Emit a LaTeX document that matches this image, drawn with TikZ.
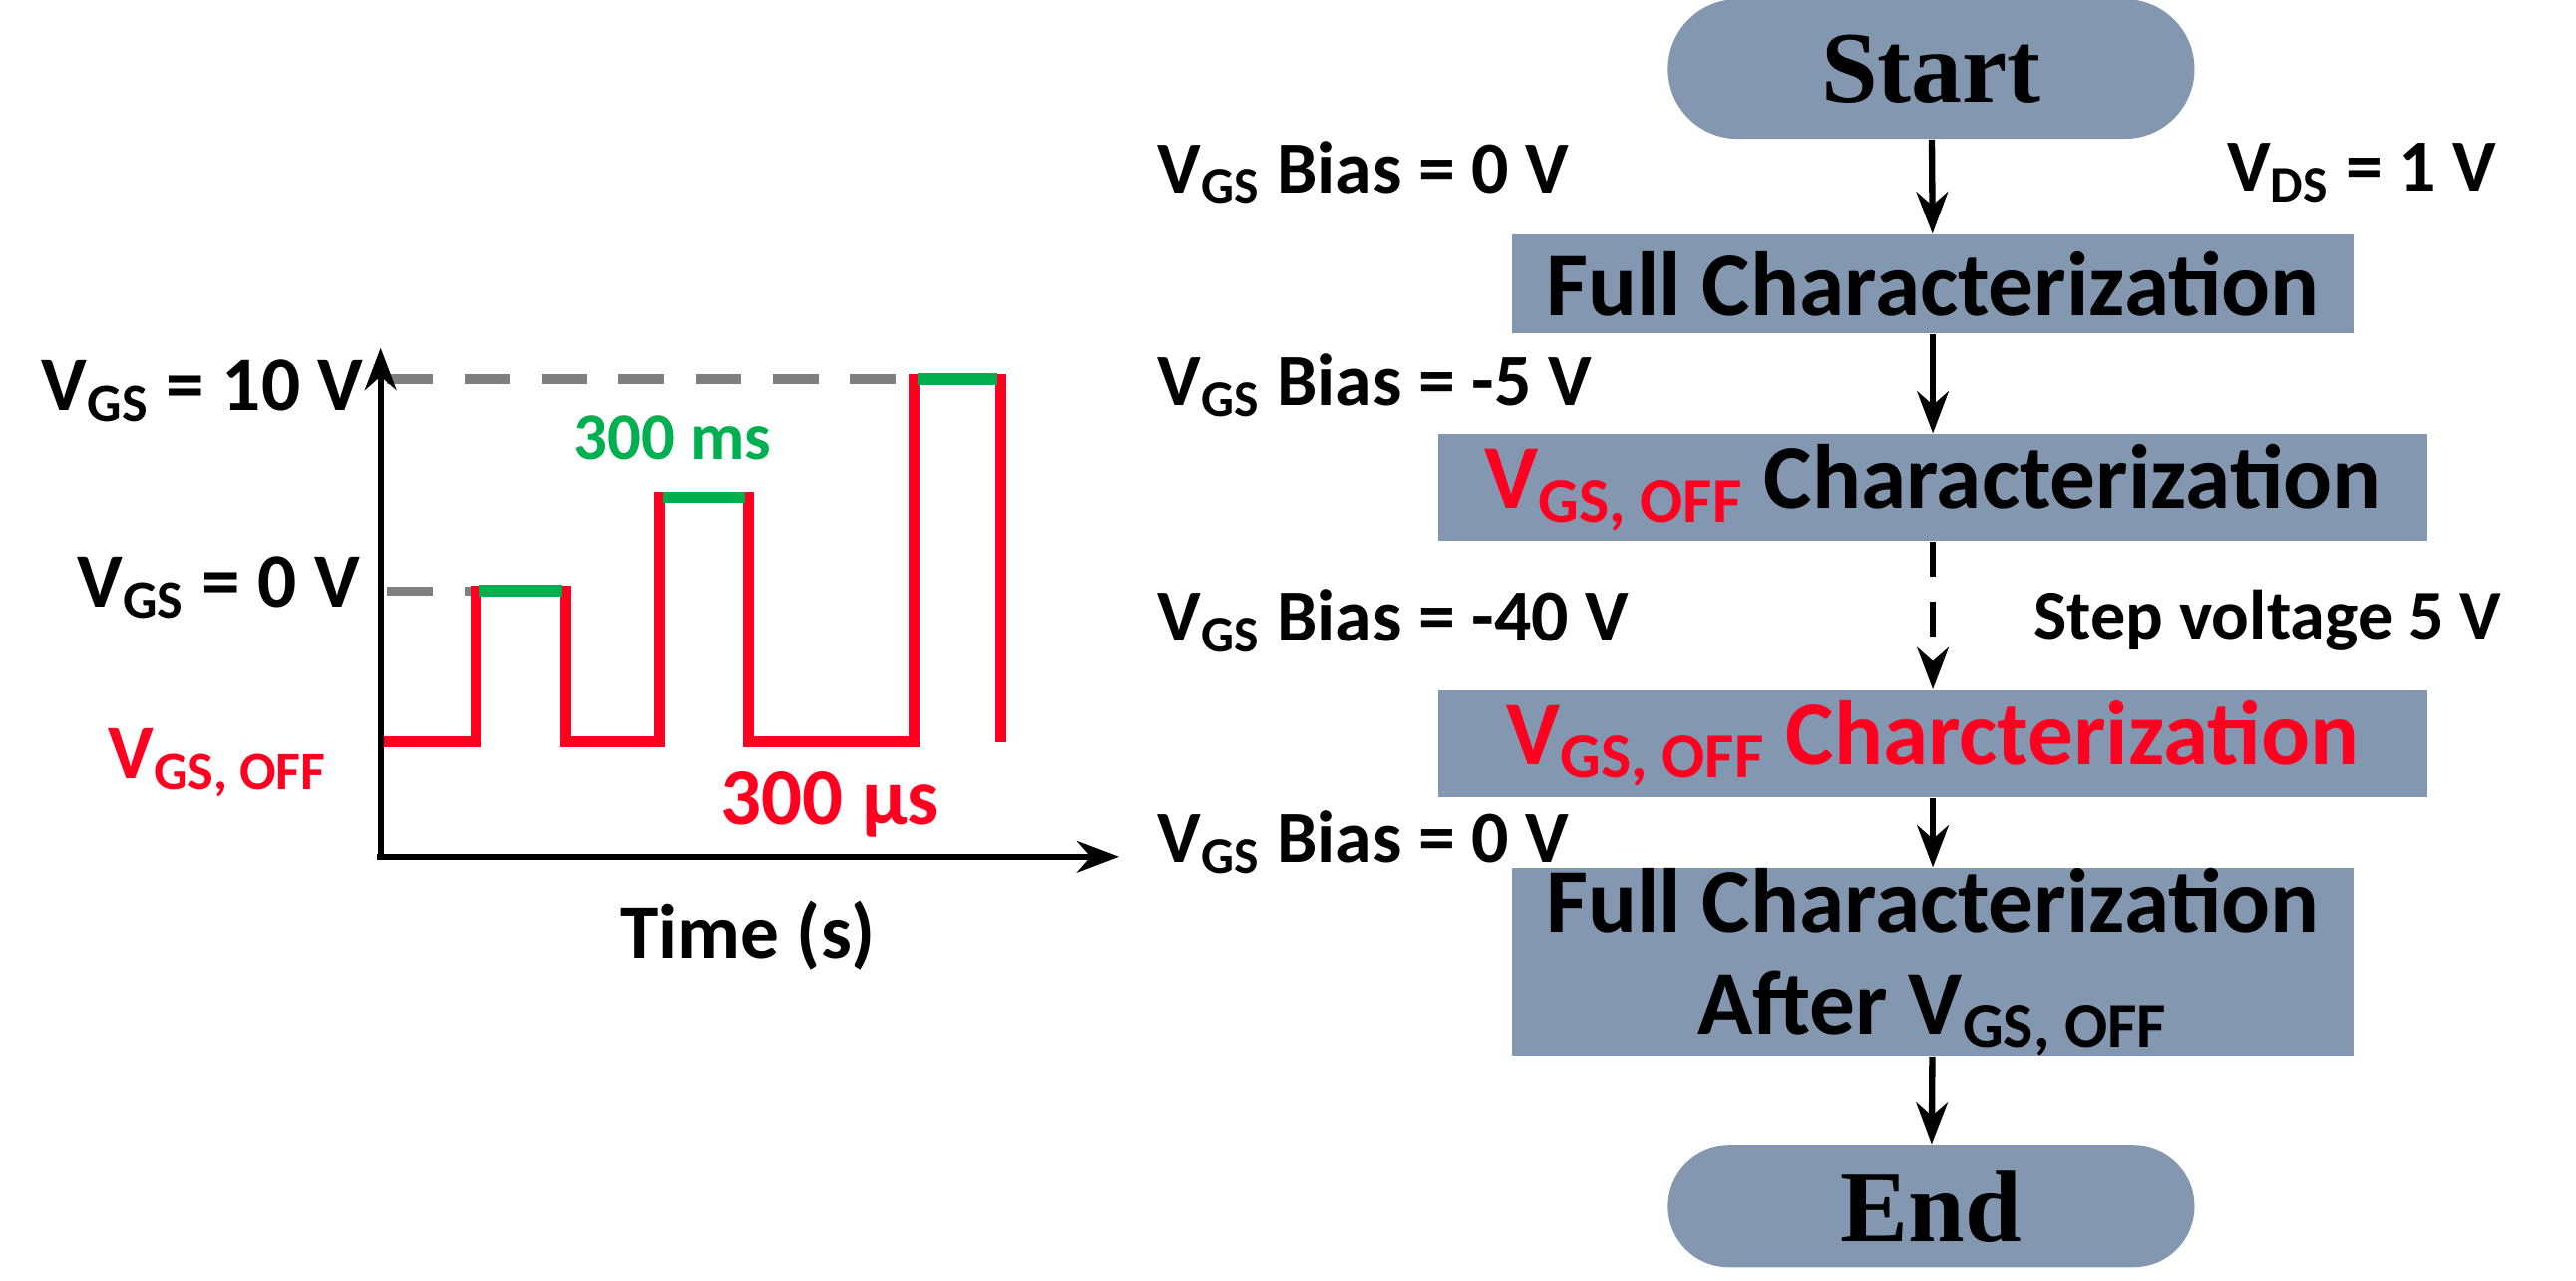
\documentclass[tikz,border=0pt]{standalone}
\usepackage{fontspec}
\setmainfont{Carlito}
\newfontfamily\serifb{Liberation Serif}
\usetikzlibrary{arrows.meta,shapes.misc}
\definecolor{boxc}{HTML}{8497B0}
\definecolor{myred}{HTML}{FF0020}
\definecolor{mygreen}{HTML}{00B050}
\definecolor{dgray}{HTML}{7F7F7F}
\newcommand{\sbs}[1]{\textsubscript{#1}}
\begin{document}
\begin{tikzpicture}[x=0.016452cm,y=-0.016452cm,
  box/.style={fill=boxc,inner sep=0pt,font=\fontsize{26}{29}\selectfont\bfseries,align=center},
  term/.style={box,rounded rectangle,font=\fontsize{29}{32}\selectfont\serifb\bfseries},
  lbl/.style={font=\fontsize{21}{24}\selectfont\bfseries,inner sep=0pt},
  arr/.style={-{Stealth[length=12pt,width=9pt]},line width=1.8pt},
  wave/.style={myred,line width=3pt},
  top/.style={mygreen,line width=3.4pt}]
\useasboundingbox (0,0) rectangle (1570,780);
% flowchart
\node[term,minimum width=5.28cm,minimum height=1.4cm] (start) at (1177,42) {Start};
\node[box,minimum width=8.44cm,minimum height=0.99cm] (f1) at (1178,173) {Full Characterization};
\node[box,minimum width=9.92cm,minimum height=1.07cm] (v1) at (1178,297) {\textcolor{myred}{V\sbs{GS, OFF}} Characterization};
\node[box,minimum width=9.92cm,minimum height=1.07cm] (v2) at (1178,453) {\textcolor{myred}{V\sbs{GS, OFF} Charcterization}};
\node[box,minimum width=8.44cm,minimum height=1.76cm] (f2) at (1178,586) {Full Characterization\\After V\sbs{GS, OFF}};
\node[term,minimum width=5.28cm,minimum height=1.22cm] (end) at (1177,735) {End};
\draw[arr] (start) -- (f1);
\draw[arr] (f1) -- (v1);
\draw[arr,dash pattern=on 10pt off 7pt] (v1) -- (v2);
\draw[arr] (v2) -- (f2);
\draw[arr] (f2) -- (end);
\node[lbl,anchor=west] (l1) at (705,105) {V\sbs{GS} Bias = 0 V};
\node[lbl,anchor=east] (l2) at (1522,105) {V\sbs{DS} = 1 V};
\node[lbl,anchor=west] (l3) at (705,235) {V\sbs{GS} Bias = -5 V};
\node[lbl,anchor=west] (l4) at (705,378) {V\sbs{GS} Bias = -40 V};
\node[lbl,anchor=east,font=\fontsize{20}{23}\selectfont\bfseries] (l5) at (1525,378) {Step voltage 5 V};
\node[lbl,anchor=west] (l6) at (705,513) {V\sbs{GS} Bias = 0 V};
% waveform plot
\coordinate (o) at (232,522);
\coordinate (ytop) at (232,212);
\coordinate (xend) at (682,522);
\draw[dgray,line width=2.6pt,dash pattern=on 13pt off 9pt] (236,231) -- (557,231);
\draw[dgray,line width=2.6pt,dash pattern=on 13pt off 9pt] (236,360) -- (290,360);
\draw[wave] (232,452) -- (290,452) -- (290,360) -- (345,360) -- (345,452) -- (402,452) -- (402,303) -- (456,303) -- (456,452) -- (557,452) -- (557,231) -- (610,231) -- (610,452);
\draw[top] (292,360) -- (343,360);
\draw[top] (404,303) -- (454,303);
\draw[top] (559,231) -- (608,231);
\draw[arr] (o) -- (ytop);
\draw[arr] ([xshift=-1pt]o) -- (xend);
\node[lbl,anchor=east,font=\fontsize{22}{25}\selectfont\bfseries] (a1) at (222,238) {V\sbs{GS} = 10 V};
\node[lbl,anchor=east,font=\fontsize{22}{25}\selectfont\bfseries] (a2) at (220,358) {V\sbs{GS} = 0 V};
\node[lbl,anchor=east,text=myred,font=\fontsize{22}{25}\selectfont\bfseries] (a3) at (200,465) {V\sbs{GS, OFF}};
\node[lbl,text=mygreen,font=\fontsize{19}{22}\selectfont\bfseries] (a4) at (410,267) {300 ms};
\node[lbl,text=myred,font=\fontsize{23}{26}\selectfont\bfseries] (a5) at (506,490) {300 μs};
\node[lbl,font=\fontsize{22}{25}\selectfont\bfseries] (a6) at (456,570) {Time (s)};
\end{tikzpicture}
\end{document}
